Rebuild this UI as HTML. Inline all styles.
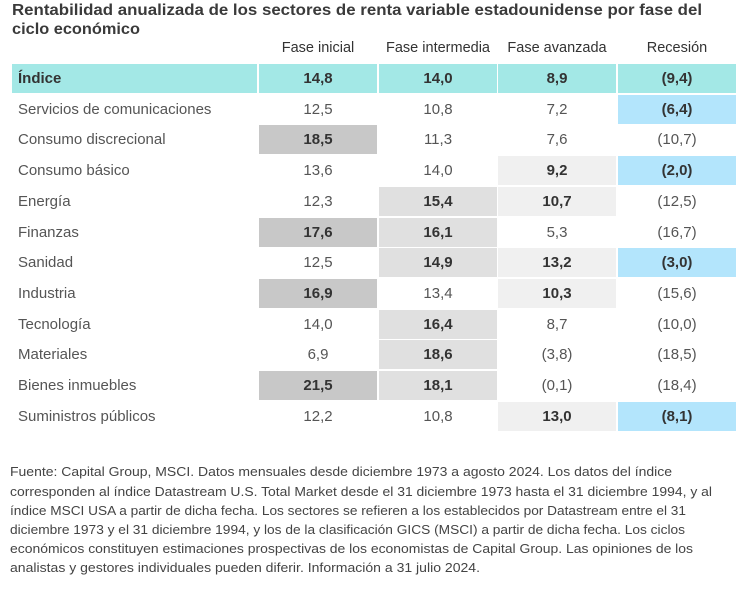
<!DOCTYPE html>
<html><head><meta charset="utf-8">
<style>
body{margin:0;width:753px;height:601px;background:#fff;overflow:hidden;font-family:"Liberation Sans",sans-serif;color:#444;position:relative}
.fit{position:absolute;white-space:nowrap;transform-origin:0 0}
.cell{position:absolute;display:flex;align-items:center;justify-content:center;font-size:15px;color:#555}
.lab{justify-content:flex-start;padding-left:6px;box-sizing:border-box}
.hd{position:absolute;font-size:14.5px;color:#333;text-align:center;white-space:nowrap}
.fn{font-size:13px;color:#444}
</style></head><body>
<div class="fit" data-w="690" style="left:12px;top:2px;font-size:15.5px;font-weight:bold;color:#3a3a3a">Rentabilidad anualizada de los sectores de renta variable estadounidense por fase del</div>
<div class="fit" data-w="128" style="left:12px;top:21px;font-size:15.5px;font-weight:bold;color:#3a3a3a">ciclo económico</div>
<div id="tbl"></div>
<div>
<div class="fit fn" data-w="662" style="left:10px;top:464px">Fuente: Capital Group, MSCI. Datos mensuales desde diciembre 1973 a agosto 2024. Los datos del índice</div>
<div class="fit fn" data-w="702" style="left:10px;top:484px">corresponden al índice Datastream U.S. Total Market desde el 31 diciembre 1973 hasta el 31 diciembre 1994, y al</div>
<div class="fit fn" data-w="676" style="left:10px;top:503px">índice MSCI USA a partir de dicha fecha. Los sectores se refieren a los establecidos por Datastream entre el 31</div>
<div class="fit fn" data-w="675" style="left:10px;top:522px">diciembre 1973 y el 31 diciembre 1994, y los de la clasificación GICS (MSCI) a partir de dicha fecha. Los ciclos</div>
<div class="fit fn" data-w="683" style="left:10px;top:541px">económicos constituyen estimaciones prospectivas de los economistas de Capital Group. Las opiniones de los</div>
<div class="fit fn" data-w="470" style="left:10px;top:560px">analistas y gestores individuales pueden diferir. Información a 31 julio 2024.</div>
</div>
<script>
const phases=["Fase inicial","Fase intermedia","Fase avanzada","Recesión"];
const sectors=["Índice","Servicios de comunicaciones","Consumo discrecional","Consumo básico","Energía","Finanzas","Sanidad","Industria","Tecnología","Materiales","Bienes inmuebles","Suministros públicos"];
const earlyVals=[14.8,12.5,18.5,13.6,12.3,17.6,12.5,16.9,14.0,6.9,21.5,12.2];
const midVals=[14.0,10.8,11.3,14.0,15.4,16.1,14.9,13.4,16.4,18.6,18.1,10.8];
const lateVals=[8.9,7.2,7.6,9.2,10.7,5.3,13.2,10.3,8.7,-3.8,-0.1,13.0];
const recVals=[-9.4,-6.4,-10.7,-2.0,-12.5,-16.7,-3.0,-15.6,-10.0,-18.5,-18.4,-8.1];
// highlight flags (1 = highlighted)
const earlyHi=[0,0,1,0,0,1,0,1,0,0,1,0];
const midHi=[0,0,0,0,1,1,1,0,1,1,1,0];
const lateHi=[0,0,0,1,1,0,1,1,0,0,0,1];
const recHi=[0,1,0,1,0,0,1,0,0,0,0,1];
const cols=[earlyVals,midVals,lateVals,recVals],his=[earlyHi,midHi,lateHi,recHi];
const hiColors=["#c8c8c8","#e0e0e0","#f0f0f0","#b3e5fc"];
const colX=[259,379,498,618],colW=118,top0=64,pitch=30.7,rowH=29;
const fmt=v=>{const s=Math.abs(v).toFixed(1).replace('.',',');return v<0?'('+s+')':s;};
const T=document.getElementById('tbl');
phases.forEach((p,j)=>{
  const h=document.createElement('div');h.className='hd';
  
  
  h.style.left=colX[j]+'px';h.style.width=colW+'px';h.style.top='40px';h.textContent=p;T.appendChild(h);
});
sectors.forEach((s,i)=>{
  const y=top0+i*pitch,idx=i===0;
  const l=document.createElement('div');l.className='cell lab';
  
  
  l.style.cssText+=`left:12px;top:${y}px;width:245px;height:${rowH}px;${idx?'background:#a3e8e6;font-weight:bold;color:#333;':''}`;
  l.textContent=s;T.appendChild(l);
  cols.forEach((c,j)=>{
    const d=document.createElement('div');d.className='cell';
    
    
    const hi=his[j][i];let bg=idx?'#a3e8e6':(hi?hiColors[j]:'transparent');
    d.style.cssText+=`left:${colX[j]}px;top:${y}px;width:${colW}px;height:${rowH}px;background:${bg};${(idx||hi)?'font-weight:bold;color:#333;':''}`;
    d.textContent=fmt(c[i]);T.appendChild(d);
  });
});
document.querySelectorAll('.fit').forEach(e=>{const w=+e.dataset.w;const a=e.getBoundingClientRect().width;if(a)e.style.transform=`scaleX(${w/a})`;});
</script>
</body></html>
